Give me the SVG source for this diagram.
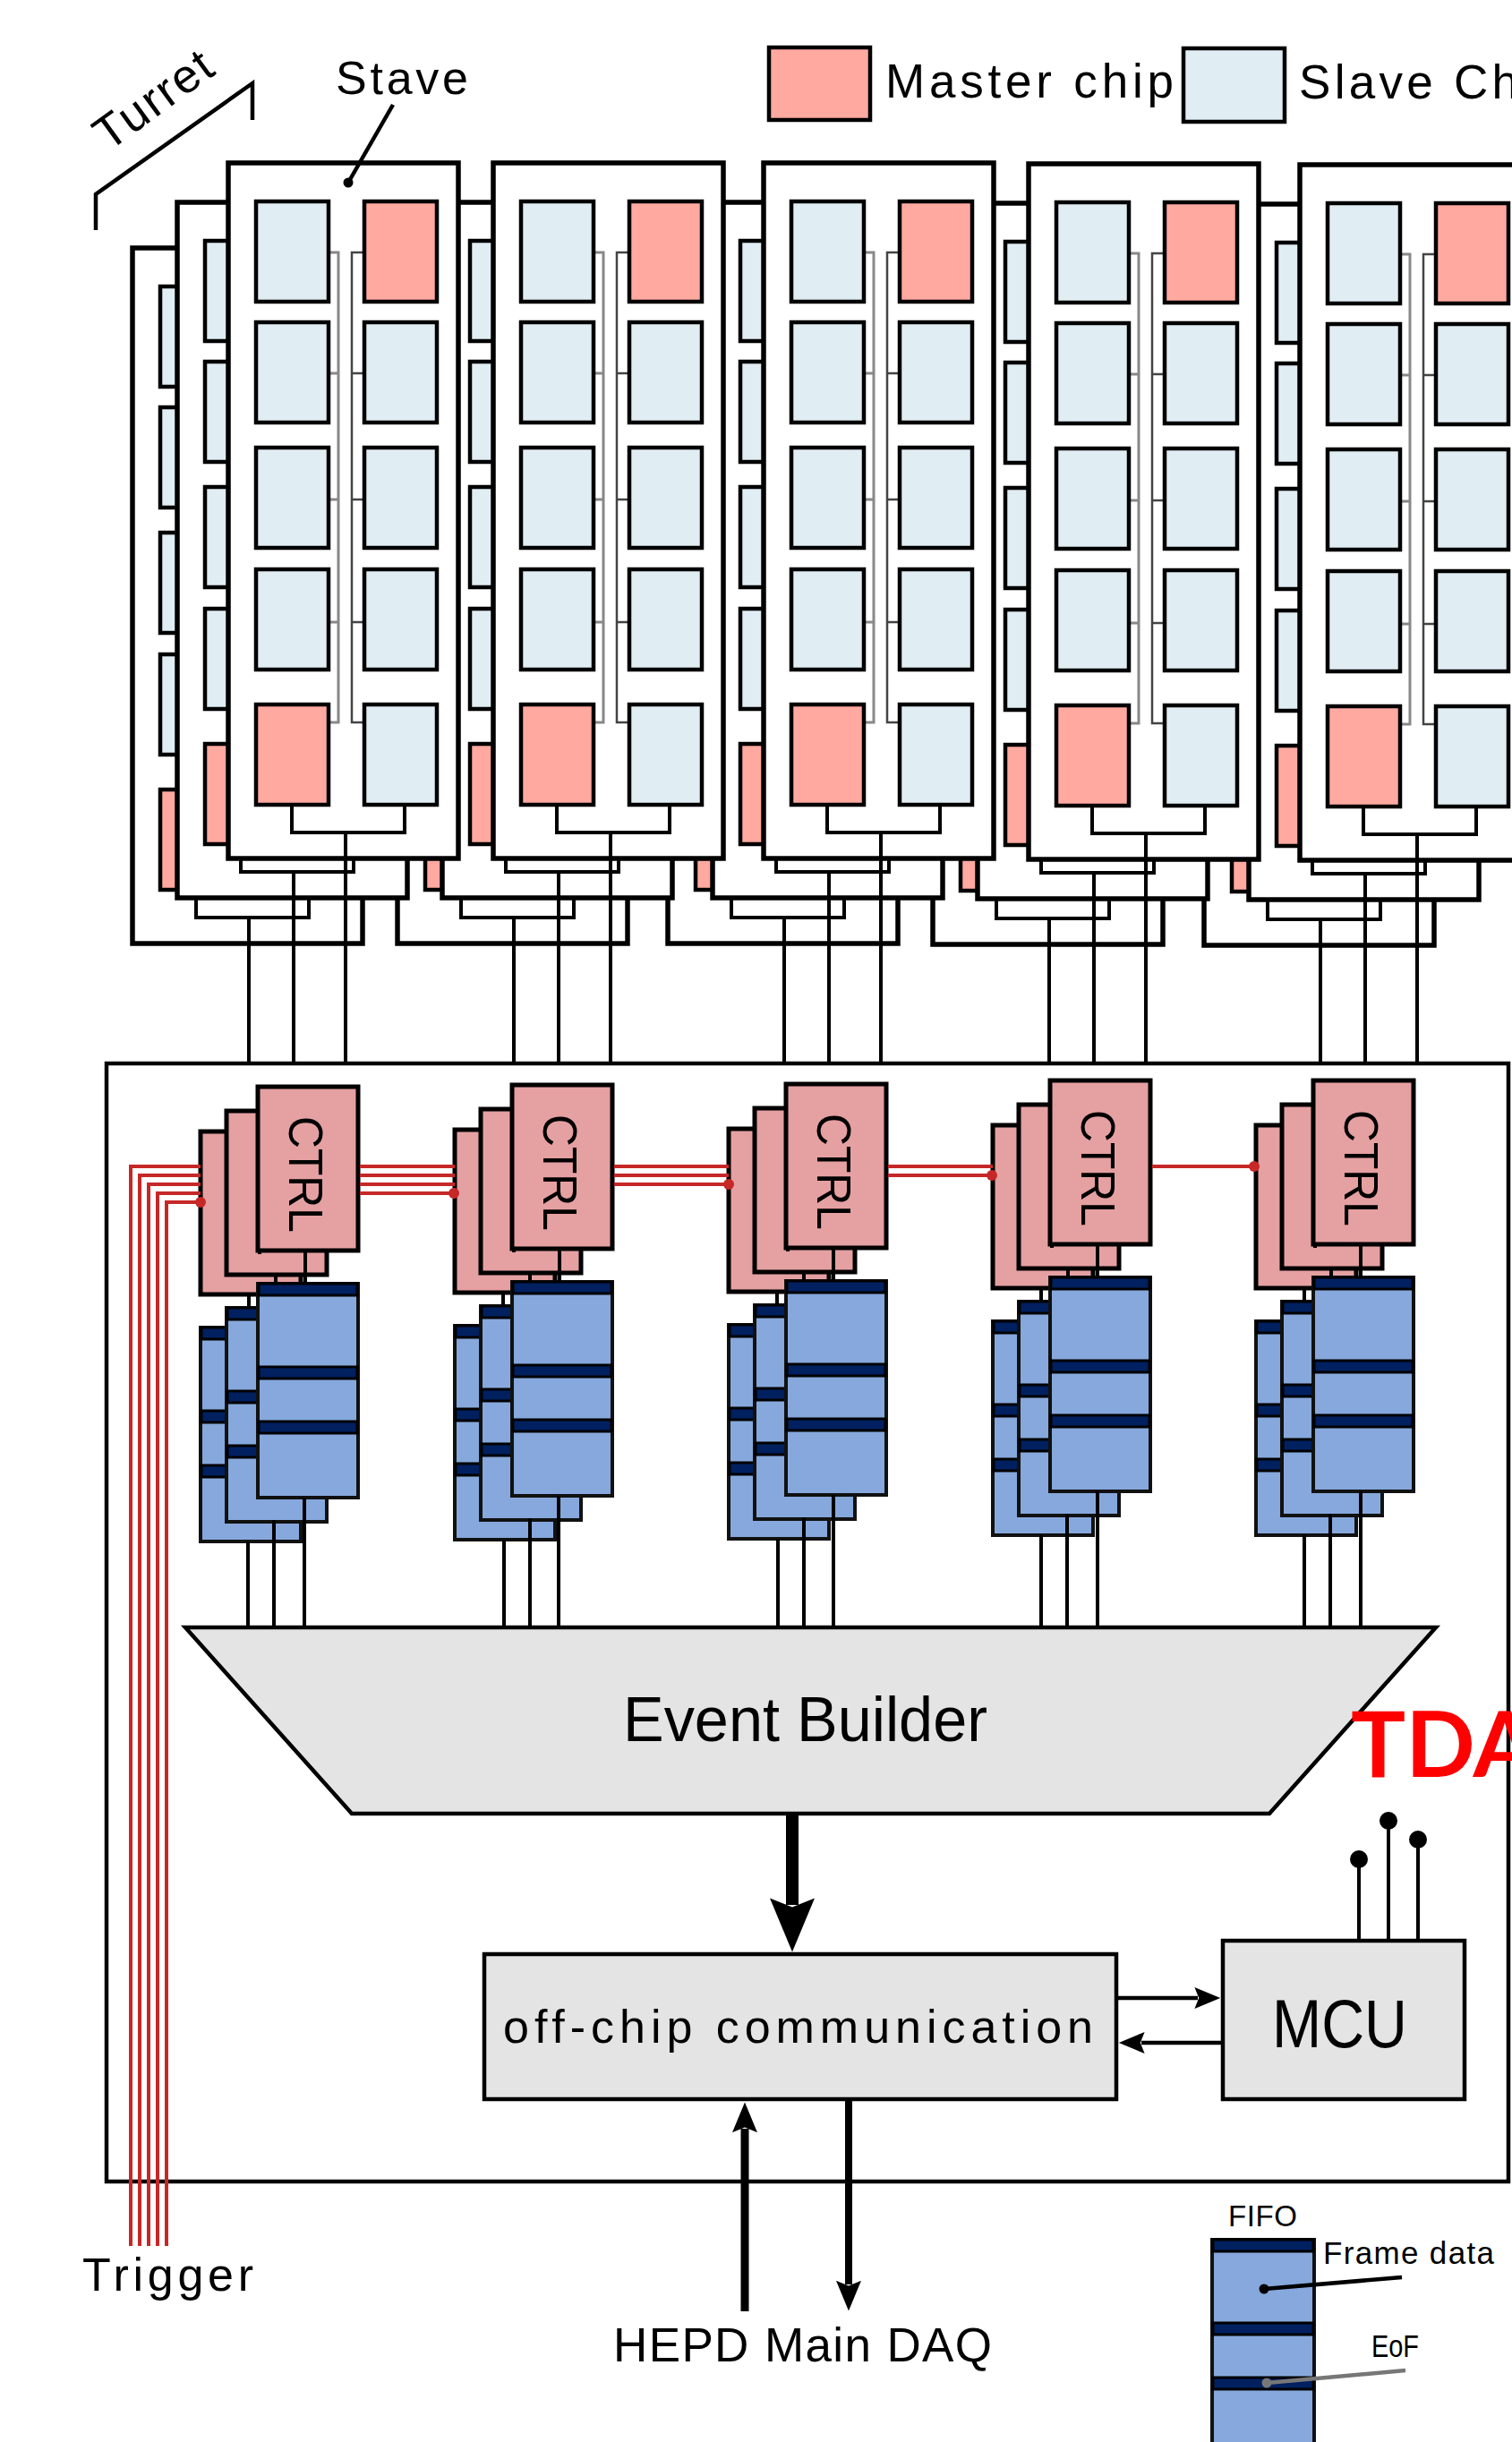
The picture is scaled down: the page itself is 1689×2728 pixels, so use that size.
<svg xmlns="http://www.w3.org/2000/svg" xmlns:xlink="http://www.w3.org/1999/xlink" width="1689" height="2728" viewBox="0 0 1689 2728">
<style>
text{font-family:"Liberation Sans",Arial,sans-serif;fill:#000}
.lbl{font-size:52px}
.s{fill:#fff;stroke:#000;stroke-width:5.5}
.c{stroke:#000;stroke-width:4.5}
.m{fill:#FFA9A0}.v{fill:#E0EDF3}
.bus1{fill:none;stroke:#888;stroke-width:3}
.bus2{fill:none;stroke:#444;stroke-width:2.5}
.br{fill:none;stroke:#000;stroke-width:4}
.ln{fill:none;stroke:#000;stroke-width:4}
.ctrl{fill:#E5A0A2;stroke:#000;stroke-width:5}
.fifo{fill:#86A8DC;stroke:#111;stroke-width:4}
.bar{fill:#002060;stroke:#000;stroke-width:3}
.gb{fill:#E4E4E4;stroke:#000;stroke-width:4.5}
.red{fill:none;stroke:#C62828;stroke-width:4}
.rd{fill:#C62828}
</style>
<defs>
<marker id="ah" viewBox="0 -10 24 20" refX="3" refY="0" markerUnits="userSpaceOnUse" markerWidth="30" markerHeight="24" orient="auto"><path d="M24 0L0 -10L4 0L0 10Z"/></marker>
<marker id="ahb" viewBox="0 -10 24 20" refX="3" refY="0" markerUnits="userSpaceOnUse" markerWidth="34" markerHeight="28" orient="auto"><path d="M24 0L0 -10L4 0L0 10Z"/></marker>
<marker id="aht" viewBox="0 -10 24 20" refX="3" refY="0" markerUnits="userSpaceOnUse" markerWidth="62" markerHeight="50" orient="auto"><path d="M24 0L0 -10L4 0L0 10Z"/></marker>
<g id="stave">
<rect class="s" x="255" y="182" width="257" height="777"/>
<path class="bus1" d="M367 282H378V807H367M367 417H378M367 558H378M367 695H378"/>
<path class="bus2" d="M407 282H393V807H407M407 417H393M407 558H393M407 695H393"/>
<path class="br" d="M326 899V930H452V899"/>
<rect class="c v" x="286" y="225" width="81" height="112"/>
<rect class="c m" x="407" y="225" width="81" height="112"/>
<rect class="c v" x="286" y="360" width="81" height="112"/>
<rect class="c v" x="407" y="360" width="81" height="112"/>
<rect class="c v" x="286" y="500" width="81" height="112"/>
<rect class="c v" x="407" y="500" width="81" height="112"/>
<rect class="c v" x="286" y="636" width="81" height="112"/>
<rect class="c v" x="407" y="636" width="81" height="112"/>
<rect class="c m" x="286" y="787" width="81" height="112"/>
<rect class="c v" x="407" y="787" width="81" height="112"/>
</g>
<g id="turret">
<use xlink:href="#stave" href="#stave" transform="translate(-107 95)"/>
<use xlink:href="#stave" href="#stave" transform="translate(-57 44)"/>
<use xlink:href="#stave" href="#stave"/>
</g>
<g id="fifo3">
<rect class="fifo" x="0" y="0" width="112" height="239"/>
<rect class="bar" x="1" y="0" width="110" height="13"/>
<rect class="bar" x="1" y="93" width="110" height="13"/>
<rect class="bar" x="1" y="154" width="110" height="13"/>
</g>
<g id="ctrlstack">
<rect class="ctrl" x="-64" y="50" width="112" height="182"/>
<rect class="ctrl" x="-35" y="27" width="112" height="183"/>
<rect class="ctrl" x="0" y="0" width="112" height="183"/>
<use xlink:href="#fifo3" href="#fifo3" x="-64" y="269"/>
<use xlink:href="#fifo3" href="#fifo3" x="-35" y="247"/>
<use xlink:href="#fifo3" href="#fifo3" x="0" y="220"/>
<text font-size="53" textLength="130" lengthAdjust="spacingAndGlyphs" transform="translate(35 33) rotate(90)">CTRL</text>
</g>
</defs>
<rect width="1689" height="2728" fill="#fff"/>

<g id="turret-5"><use xlink:href="#turret" href="#turret" transform="translate(1197 2)"/></g>
<g id="turret-4"><use xlink:href="#turret" href="#turret" transform="translate(894 1)"/></g>
<g id="turret-3"><use xlink:href="#turret" href="#turret" transform="translate(598 0)"/></g>
<g id="turret-2"><use xlink:href="#turret" href="#turret" transform="translate(296 0)"/></g>
<g id="turret-1"><use xlink:href="#turret" href="#turret"/></g>

<g id="daq-board"><rect x="119" y="1188" width="1566" height="1249" fill="#fff" stroke="#000" stroke-width="4.5"/></g>

<g id="ctrl-1"><use xlink:href="#ctrlstack" href="#ctrlstack" x="288" y="1214"/></g>
<g id="ctrl-2"><use xlink:href="#ctrlstack" href="#ctrlstack" x="572" y="1212"/></g>
<g id="ctrl-3"><use xlink:href="#ctrlstack" href="#ctrlstack" x="878" y="1211"/></g>
<g id="ctrl-4"><use xlink:href="#ctrlstack" href="#ctrlstack" x="1173" y="1207"/></g>
<g id="ctrl-5"><use xlink:href="#ctrlstack" href="#ctrlstack" x="1467" y="1207"/></g>

<g id="event-builder">
<path class="gb" d="M207 1818H1604L1418 2026H393Z"/>
<text x="696" y="1945" font-size="70" textLength="407" lengthAdjust="spacingAndGlyphs">Event Builder</text>
</g>
<g id="off-chip">
<rect class="gb" x="541" y="2183" width="706" height="162"/>
<text x="562" y="2282" class="lbl" textLength="659" lengthAdjust="spacing">off-chip communication</text>
</g>
<g id="mcu">
<rect class="gb" x="1366" y="2168" width="270" height="177"/>
<text x="1421" y="2287" font-size="76" textLength="151" lengthAdjust="spacingAndGlyphs">MCU</text>
</g>

<g id="connectors">
<path class="ln" d="M278 1025V1188M328 974V1188M386 930V1188"/>
<path class="ln" d="M574 1025V1188M624 974V1188M682 930V1188"/>
<path class="ln" d="M876 1025V1188M926 974V1188M984 930V1188"/>
<path class="ln" d="M1172 1026V1188M1222 975V1188M1280 931V1188"/>
<path class="ln" d="M1475 1027V1188M1525 976V1188M1583 932V1188"/>
<path class="ln" d="M278 1446V1461M308 1424V1434M341 1397V1434M277 1722V1818M306 1698V1818M340 1673V1818M290 1397V1401"/>
<path class="ln" d="M562 1444V1459M592 1422V1432M625 1395V1432M563 1720V1818M592 1696V1818M624 1671V1818M574 1395V1399"/>
<path class="ln" d="M868 1443V1458M898 1421V1431M931 1394V1431M869 1719V1818M898 1695V1818M931 1670V1818M880 1394V1398"/>
<path class="ln" d="M1163 1439V1454M1193 1417V1427M1226 1390V1427M1163 1715V1818M1192 1691V1818M1226 1666V1818M1175 1390V1394"/>
<path class="ln" d="M1457 1439V1454M1487 1417V1427M1520 1390V1427M1457 1715V1818M1486 1691V1818M1520 1666V1818M1469 1390V1394"/>
<path class="red" d="M146 2509V1303H224M156 2509V1313H224M166 2509V1323H224M176 2509V1333H224M186 2509V1343H224"/>
<path class="red" d="M402 1303H508M402 1313H508M402 1323H508M402 1333H508"/>
<path class="red" d="M686 1303H814M686 1313H814M686 1323H814"/>
<path class="red" d="M992 1303H1109M992 1313H1109"/>
<path class="red" d="M1287 1303H1403"/>
<circle class="rd" cx="224" cy="1343" r="6"/><circle class="rd" cx="507" cy="1333" r="6"/><circle class="rd" cx="814" cy="1323" r="6"/><circle class="rd" cx="1108" cy="1313" r="6"/><circle class="rd" cx="1401" cy="1303" r="6"/>
<path d="M885 2027V2128" stroke="#000" stroke-width="14" marker-end="url(#aht)"/>
<path d="M1247 2232H1338" stroke="#000" stroke-width="4.5" marker-end="url(#ah)"/>
<path d="M1366 2282H1275" stroke="#000" stroke-width="4.5" marker-end="url(#ah)"/>
<path d="M832 2582V2378" stroke="#000" stroke-width="9" marker-end="url(#ahb)"/>
<path d="M948 2347V2552" stroke="#000" stroke-width="8" marker-end="url(#ahb)"/>
<path class="ln" d="M1518 2168V2077M1551 2168V2034M1584 2168V2055"/>
<circle cx="1518" cy="2077" r="10"/><circle cx="1551" cy="2034" r="10"/><circle cx="1584" cy="2055" r="10"/>
<path d="M439 117L389 204" stroke="#000" stroke-width="4.5" fill="none"/><circle cx="389" cy="204" r="5.5"/>
<path d="M107 257V217L282 93V134" stroke="#000" stroke-width="4.5" fill="none"/>
</g>

<g id="label-turret"><text font-size="53" textLength="150" lengthAdjust="spacing" transform="translate(121 170) rotate(-36)">Turret</text></g>
<g id="label-stave"><text x="375" y="105" font-size="52" textLength="148" lengthAdjust="spacing">Stave</text></g>
<g id="legend-master">
<rect class="c m" x="859" y="53" width="113" height="81"/>
<text x="989" y="109" font-size="53" textLength="322" lengthAdjust="spacing">Master chip</text>
</g>
<g id="legend-slave">
<rect class="c v" x="1322" y="54" width="113" height="82"/>
<text x="1451" y="110" font-size="53" textLength="245" lengthAdjust="spacing">Slave Ch</text>
</g>
<g id="label-tda"><text x="1509" y="1985" font-size="102" font-weight="700" style="font-family:Lato,'Open Sans',sans-serif;fill:#f00">TDA</text></g>
<g id="label-trigger"><text x="92" y="2559" font-size="52" textLength="191" lengthAdjust="spacing">Trigger</text></g>
<g id="label-hepd"><text x="685" y="2638" font-size="53" textLength="423" lengthAdjust="spacing">HEPD Main DAQ</text></g>

<g id="fifo-legend">
<rect class="fifo" x="1354" y="2502" width="114" height="240"/>
<rect class="bar" x="1355" y="2502" width="112" height="13"/>
<rect class="bar" x="1355" y="2595" width="112" height="13"/>
<rect class="bar" x="1355" y="2656" width="112" height="13"/>
<text x="1372" y="2487" font-size="33" textLength="77" lengthAdjust="spacing">FIFO</text>
<text x="1478" y="2529" font-size="35" textLength="191" lengthAdjust="spacing">Frame data</text>
<text x="1532" y="2633" font-size="35" textLength="53" lengthAdjust="spacingAndGlyphs">EoF</text>
<path d="M1412 2557L1566 2544" stroke="#000" stroke-width="4.5"/><circle cx="1412" cy="2557" r="5.5"/>
<path d="M1415 2662L1570 2648" stroke="#777" stroke-width="4.5"/><circle cx="1415" cy="2662" r="5.5" fill="#777"/>
</g>
</svg>
